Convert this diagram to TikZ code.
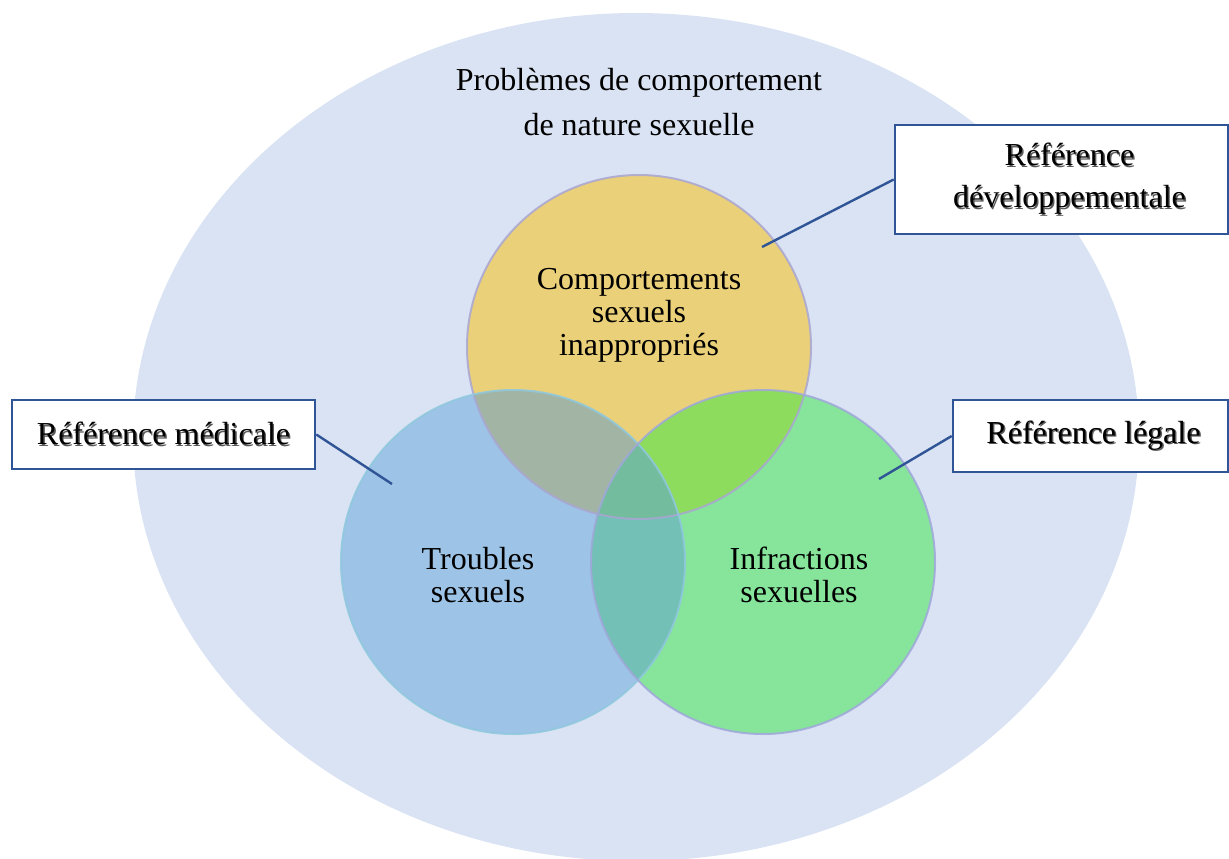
\documentclass[tikz,border=0pt]{standalone}
\usepackage{fontspec}
\setmainfont{Liberation Serif}
\definecolor{ellcol}{HTML}{DAE3F3}
\definecolor{yel}{HTML}{EBD07A}
\definecolor{blu}{HTML}{9DC3E6}
\definecolor{grn}{HTML}{86E59B}
\definecolor{ybc}{HTML}{A2B5A5}
\definecolor{ygc}{HTML}{8EDC5E}
\definecolor{bgc}{HTML}{72C0B6}
\definecolor{ctrc}{HTML}{73BC9D}
\definecolor{bdT}{HTML}{A9A6D2}
\definecolor{bdL}{HTML}{8FC8DE}
\definecolor{bdR}{HTML}{A0A7DB}
\definecolor{boxc}{HTML}{2F5597}
\newcommand\shtxt[1]{\leavevmode\rlap{\kern1.4pt\raisebox{-1.4pt}{\textcolor{black!65}{#1}}}#1}
\begin{document}
\begin{tikzpicture}[x=1pt,y=-1pt,
  bigfont/.style={font=\fontsize{32}{33}\selectfont},
  refbox/.style={draw=boxc,line width=2.6pt,fill=white,inner sep=0pt,align=center,font=\fontsize{32}{42}\selectfont},
  link/.style={draw=boxc,line width=2.4pt},
  ring/.style={line width=2pt,draw opacity=0.85}]
\useasboundingbox (0,0) rectangle (1229,859);
\fill[ellcol] (636,437) ellipse [x radius=503, y radius=424];
\coordinate (cT) at (639,347);
\coordinate (cL) at (513,562);
\coordinate (cR) at (763,562);
\def\R{172}
% base fills
\fill[yel] (cT) circle [radius=\R];
\fill[blu] (cL) circle [radius=\R];
\fill[grn] (cR) circle [radius=\R];
% overlaps
\begin{scope}
  \clip (cT) circle [radius=\R];
  \fill[ybc] (cL) circle [radius=\R];
  \fill[ygc] (cR) circle [radius=\R];
\end{scope}
\begin{scope}
  \clip (cL) circle [radius=\R];
  \fill[bgc] (cR) circle [radius=\R];
  \clip (cR) circle [radius=\R];
  \fill[ctrc] (cT) circle [radius=\R];
\end{scope}
% borders
\draw[ring,bdT] (cT) circle [radius=\R];
\draw[ring,bdL] (cL) circle [radius=\R];
\draw[ring,bdR] (cR) circle [radius=\R];
% texts
\node[font=\fontsize{32}{45}\selectfont,align=center] (title) at (639,102) {Problèmes de comportement\\de nature sexuelle};
\node[bigfont,align=center] (tT) at (639,315) {Comportements\\sexuels\\inappropriés};
\node[bigfont,align=center] (tL) at (478,575) {Troubles\\sexuels};
\node[bigfont,align=center] (tR) at (799,575) {Infractions\\sexuelles};
% reference boxes
\node[refbox,minimum width=333pt,minimum height=109pt] (bD) at (1061.5,179.5) {\hspace*{16pt}\shtxt{Référence}\\\hspace*{16pt}\shtxt{développementale}};
\node[refbox,minimum width=303pt,minimum height=69pt] (bM) at (163.5,434.5) {\shtxt{Référence médicale}};
\node[refbox,minimum width=275pt,minimum height=72pt] (bG) at (1090.5,436) {\hspace*{6pt}\shtxt{Référence légale}};
\coordinate (pD) at (762,247);
\coordinate (pM) at (392,484);
\coordinate (pG) at (879,479);
\draw[link] (bD.west) -- (pD);
\draw[link] (bM.east) -- (pM);
\draw[link] (bG.west) -- (pG);
\end{tikzpicture}
\end{document}
